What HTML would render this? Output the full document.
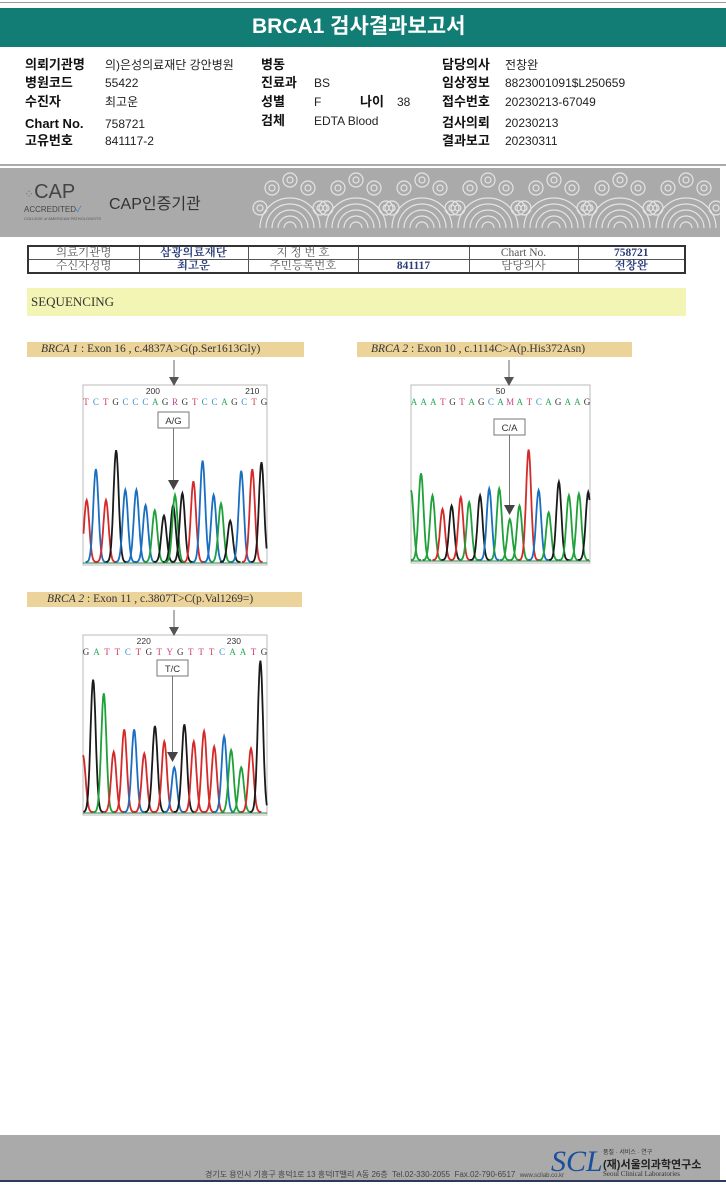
<!DOCTYPE html>
<html><head><meta charset="utf-8">
<style>
*{margin:0;padding:0;box-sizing:border-box}
body{width:726px;height:1200px;background:#fff;position:relative;overflow:hidden;font-family:"Liberation Sans","Noto Sans CJK KR",sans-serif;color:#111}
.abs{position:absolute}
.lbl{position:absolute;font-weight:bold;font-size:13px;line-height:14px;white-space:nowrap}
.val{position:absolute;font-size:12px;line-height:14px;white-space:nowrap;color:#222}
.ser{font-family:"Liberation Serif","Noto Serif CJK SC",serif}
table.t{position:absolute;left:27px;top:245px;width:659px;height:29px;border-collapse:collapse;border:2px solid #333;font-family:"Liberation Serif","Noto Serif CJK SC",serif;font-size:11.5px}
table.t td{border:1px solid #555;text-align:center;color:#555;height:13px;line-height:12px;padding:0}
table.t td.b{color:#2a3d7a;font-weight:bold}
.tag{position:absolute;height:15px;background:#ecd39a;font-family:"Liberation Serif",serif;font-size:11.5px;line-height:15px;color:#333;padding-left:14px;white-space:nowrap}
</style></head><body>
<div class="abs" style="left:0;top:2px;width:726px;height:1px;background:#999"></div>
<div class="abs" style="left:0;top:8px;width:726px;height:39px;background:#127d74"></div>
<div class="abs" style="left:252px;top:14px;color:#fff;font-weight:bold;font-size:21px;line-height:26px;white-space:nowrap">BRCA1 검사결과보고서</div>

<div>
<div class="lbl" style="left:25px;top:58px">의뢰기관명</div><div class="val" style="left:105px;top:58px">의)은성의료재단 강안병원</div>
<div class="lbl" style="left:25px;top:76px">병원코드</div><div class="val" style="left:105px;top:76px">55422</div>
<div class="lbl" style="left:25px;top:95px">수진자</div><div class="val" style="left:105px;top:95px">최고운</div>
<div class="lbl" style="left:25px;top:117px">Chart No.</div><div class="val" style="left:105px;top:117px">758721</div>
<div class="lbl" style="left:25px;top:134px">고유번호</div><div class="val" style="left:105px;top:134px">841117-2</div>
<div class="lbl" style="left:261px;top:58px">병동</div>
<div class="lbl" style="left:261px;top:76px">진료과</div><div class="val" style="left:314px;top:76px">BS</div>
<div class="lbl" style="left:261px;top:95px">성별</div><div class="val" style="left:314px;top:95px">F</div>
<div class="lbl" style="left:360px;top:95px">나이</div><div class="val" style="left:397px;top:95px">38</div>
<div class="lbl" style="left:261px;top:114px">검체</div><div class="val" style="left:314px;top:114px">EDTA Blood</div>
<div class="lbl" style="left:442px;top:58px">담당의사</div><div class="val" style="left:505px;top:58px">전창완</div>
<div class="lbl" style="left:442px;top:76px">임상정보</div><div class="val" style="left:505px;top:76px">8823001091$L250659</div>
<div class="lbl" style="left:442px;top:95px">접수번호</div><div class="val" style="left:505px;top:95px">20230213-67049</div>
<div class="lbl" style="left:442px;top:116px">검사의뢰</div><div class="val" style="left:505px;top:116px">20230213</div>
<div class="lbl" style="left:442px;top:134px">결과보고</div><div class="val" style="left:505px;top:134px">20230311</div>
</div>
<div class="abs" style="left:0;top:164px;width:726px;height:2px;background:#aaa"></div>

<div class="abs" style="left:0;top:168px;width:720px;height:69px;background:#a9aaa9">
<svg width="720" height="69" style="position:absolute;left:0;top:0">
<g fill="none" stroke="#e4e4e4" stroke-width="1.2" id="clouds"></g>
</svg>
<div class="abs" style="left:24px;top:14px;font-size:20px;color:#444;line-height:20px"><span style="font-size:12px;color:#777">⁘</span>CAP</div>
<div class="abs" style="left:24px;top:36px;font-size:8px;color:#444">ACCREDITED<span style="color:#3a7bd5">✓</span></div>
<div class="abs" style="left:24px;top:48px;font-size:4px;color:#555">COLLEGE of AMERICAN PATHOLOGISTS</div>
<div class="abs" style="left:109px;top:22px;font-size:16px;color:#333">CAP인증기관</div>
</div>

<table class="t">
<tr><td style="width:111px">의료기관명</td><td class="b" style="width:109px">삼광의료재단</td><td style="width:110px">지 정 번 호</td><td style="width:111px"></td><td style="width:109px">Chart No.</td><td class="b">758721</td></tr>
<tr><td>수신자성명</td><td class="b">최고운</td><td>주민등록번호</td><td class="b">841117</td><td>담당의사</td><td class="b">전창완</td></tr>
</table>

<div class="abs ser" style="left:27px;top:288px;width:659px;height:28px;background:#f3f5b4;font-size:13px;line-height:28px;padding-left:4px;color:#333">SEQUENCING</div>

<div class="tag" style="left:27px;top:342px;width:277px"><i>BRCA 1</i> : Exon 16 , c.4837A&gt;G(p.Ser1613Gly)</div>
<div class="tag" style="left:357px;top:342px;width:275px"><i>BRCA 2</i> : Exon 10 , c.1114C&gt;A(p.His372Asn)</div>
<div class="tag" style="left:27px;top:592px;width:275px;padding-left:20px"><i>BRCA 2</i> : Exon 11 , c.3807T&gt;C(p.Val1269=)</div>

<svg id="charts" class="abs" style="left:0;top:0" width="726" height="900"></svg>

<div class="abs" style="left:0;top:1135px;width:720px;height:45px;background:#a9aaa9">
<div class="abs" style="left:205px;top:34px;font-size:8px;color:#444;white-space:nowrap">경기도 용인시 기흥구 흥덕1로 13 흥덕IT밸리 A동 26층 &nbsp;Tel.02-330-2055 &nbsp;Fax.02-790-6517 &nbsp;<span style="font-size:6px">www.scllab.co.kr</span></div>
<div class="abs ser" style="left:551px;top:12px;font-size:30px;font-style:italic;color:#1a4fa0;line-height:30px">SCL</div>
<div class="abs" style="left:603px;top:12px;font-size:6px;color:#333">품질 · 서비스 · 연구</div>
<div class="abs" style="left:603px;top:21px;font-size:11px;font-weight:bold;color:#222">(재)서울의과학연구소</div>
<div class="abs ser" style="left:603px;top:35px;font-size:7px;color:#333">Seoul Clinical Laboratories</div>
</div>
<div class="abs" style="left:0;top:1180px;width:726px;height:2px;background:#2b3a5a"></div>

<script>
// chart 1
const bases1 = ["T","C","T","G","C","C","C","A","G","G","A","G","T","C","C","A","G","C","T","G"];
const pos1 = [0.02,0.07,0.125,0.18,0.23,0.29,0.34,0.39,0.44,0.49,0.50,0.54,0.60,0.65,0.71,0.75,0.80,0.86,0.92,0.97];
const height1 = [0.36,0.54,0.36,0.65,0.42,0.42,0.33,0.30,0.27,0.33,0.39,0.40,0.47,0.59,0.39,0.34,0.24,0.53,0.54,0.58];
const seq1 = "TCTGCCCAGRGTCCAGCTG";
const ticks1 = ["200","210"];
// chart 2
const bases2 = ["A","A","A","T","G","T","A","G","C","A","A","A","T","C","A","G","A","A","G"];
const pos2 = [0.0,0.056,0.12,0.176,0.227,0.278,0.325,0.386,0.437,0.493,0.552,0.606,0.657,0.713,0.769,0.826,0.882,0.938,0.99];
const height2 = [0.41,0.51,0.38,0.30,0.32,0.37,0.34,0.38,0.42,0.42,0.24,0.32,0.65,0.41,0.28,0.46,0.38,0.39,0.40];
const seq2 = "AAATGTAGCAMATCAGAAG";
const ticks2 = ["50"];
// chart 3
const bases3 = ["T","G","A","T","T","C","T","G","T","C","G","T","T","T","C","A","A","T","G"];
const pos3 = [0.0,0.055,0.113,0.167,0.224,0.278,0.333,0.391,0.442,0.496,0.551,0.602,0.658,0.713,0.767,0.805,0.86,0.913,0.964];
const height3 = [0.33,0.77,0.69,0.35,0.48,0.48,0.34,0.50,0.41,0.26,0.51,0.41,0.47,0.38,0.44,0.36,0.26,0.37,0.88];
const seq3 = "GATTCTGTYGTTTCAATG";
const ticks3 = ["220","230"];

const colorOf = {A:"#1fa13a",C:"#1a6fc0",G:"#1a1a1a",T:"#d42a2a"};
const letterColor = {A:"#2aa85a",C:"#3b8fd0",G:"#333",T:"#d0385a",R:"#d03a8a",Y:"#d03a8a",M:"#d03a8a"};
const NS="http://www.w3.org/2000/svg";
const svg=document.getElementById('charts');
function mk(tag,attrs,parent){const e=document.createElementNS(NS,tag);for(const k in attrs)e.setAttribute(k,attrs[k]);(parent||svg).appendChild(e);return e;}

function drawChart(box,bases,pos,hts,seq,ticks,tickFr,call,callX,callY,triY,arrowX,arrowTop,name){
  const g=mk('g',{});
  
  
  const xS=f=>box.x+f*box.w;
  const base=box.y+box.h-3, plotH=box.h-8;
  const fr=mk('rect',{x:box.x,y:box.y,width:box.w,height:box.h,fill:'#fff',stroke:'#bbb','stroke-width':1},g);
  
  
  mk('line',{x1:arrowX,y1:arrowTop,x2:arrowX,y2:box.y-3,stroke:'#666','stroke-width':1},g);
  mk('path',{d:`M${arrowX-5},${box.y-8} L${arrowX+5},${box.y-8} L${arrowX},${box.y+1} Z`,fill:'#555'},g);
  ticks.forEach((t,i)=>{const tx=mk('text',{x:xS(tickFr[i]),y:box.y+9,'font-size':8.5,fill:'#333','font-family':'Liberation Sans, sans-serif','text-anchor':'middle'},g);tx.textContent=t;});
  const n=seq.length;
  for(let i=0;i<n;i++){const c=seq[i];const t=mk('text',{x:box.x+3+i*(box.w-6)/(n-1),y:box.y+20,'font-size':9,fill:letterColor[c],'font-family':'Liberation Serif, serif','text-anchor':'middle'},g);t.textContent=c;}
  const sig=box.w*0.014;
  pos.forEach((p,i)=>{
    const cx=xS(p),h=hts[i];let d='';
    for(let k=-16;k<=16;k++){const x=cx+k*sig/4;const y=base-h*plotH*Math.exp(-Math.pow(k/4,2)/2);
      if(x<box.x||x>box.x+box.w) continue; d+=(d?'L':'M')+x.toFixed(1)+','+y.toFixed(1);}
    const pk=mk('path',{d:d,fill:'none',stroke:colorOf[bases[i]],'stroke-width':1.8},g);
    
    
  });
  mk('line',{x1:box.x,y1:base+1,x2:box.x+box.w,y2:base+1,stroke:'#2a7a40','stroke-width':1},g);
  mk('rect',{x:callX,y:callY,width:31,height:16,fill:'#fff',stroke:'#777'},g);
  const ct=mk('text',{x:callX+15.5,y:callY+12,'font-size':9.5,fill:'#333','text-anchor':'middle','font-family':'Liberation Sans, sans-serif'},g);ct.textContent=call;
  mk('line',{x1:callX+15.5,y1:callY+16,x2:callX+15.5,y2:triY,stroke:'#777'},g);
  mk('path',{d:`M${callX+10},${triY} L${callX+21},${triY} L${callX+15.5},${triY+10} Z`,fill:'#444'},g);
}
drawChart({x:83,y:385,w:184,h:180},bases1,pos1,height1,seq1,ticks1,[0.38,0.92],"A/G",158,412,480,174,360,'chromatogram-brca1-exon16');
drawChart({x:411,y:385,w:179,h:178},bases2,pos2,height2,seq2,ticks2,[0.5],"C/A",494,419,505,509,360,'chromatogram-brca2-exon10');
drawChart({x:83,y:635,w:184,h:180},bases3,pos3,height3,seq3,ticks3,[0.33,0.82],"T/C",157,660,752,174,610,'chromatogram-brca2-exon11');

const cg=document.getElementById('clouds');
for(let i=0;i<7;i++){const cx=290+i*66;
  for(let r=6;r<=30;r+=6){mk('path',{d:`M${cx-r},60 A${r},${r} 0 0 1 ${cx+r},60`},cg);}
  [[cx-18,20],[cx+18,20],[cx,12],[cx-30,40],[cx+30,40]].forEach(([x,y])=>{mk('circle',{cx:x,cy:y,r:7},cg);mk('circle',{cx:x,cy:y,r:3},cg);});
}
</script>
</body></html>
